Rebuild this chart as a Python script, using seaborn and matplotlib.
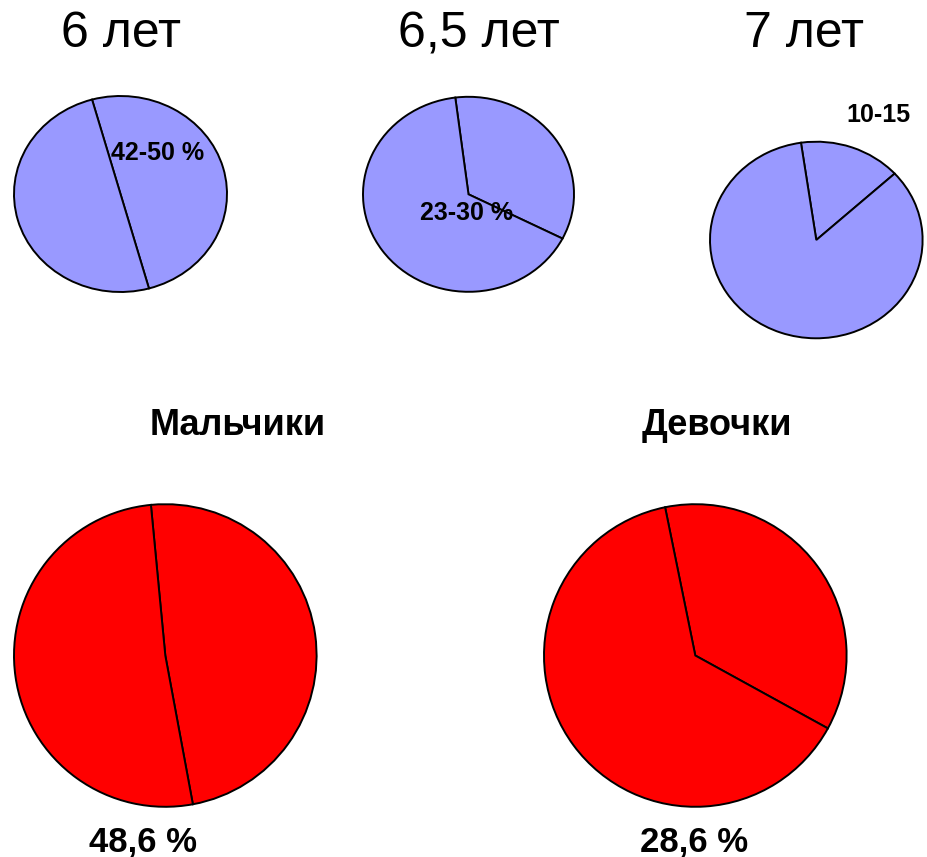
import matplotlib
matplotlib.use("Agg")
import matplotlib.pyplot as plt
import seaborn as sns

# ---- data ----
ages = ["6 лет", "6,5 лет", "7 лет"]
age_share = [50.0, 34.5, 15.5]          # highlighted slice, %
age_labels = ["42-50 %", "23-30 %", "10-15"]

genders = ["Мальчики", "Девочки"]
gender_share = [48.6, 36.2]             # highlighted slice, %
gender_labels = ["48,6 %", "28,6 %"]

# ---- style ----
sns.set_theme(style="white")
plt.rcParams["font.family"] = ["Liberation Sans", "DejaVu Sans"]

BLUE = "#9999FF"
RED = "#FF0000"

W, H = 928, 857
fig = plt.figure(figsize=(W / 100, H / 100), dpi=100)
fig.patch.set_facecolor("white")


def fx(x):
    return x / W


def fy(y):
    return 1 - y / H


def pie_axes(cx, cy, a, b):
    return fig.add_axes([fx(cx - a), fy(cy + b), 2 * a / W, 2 * b / H])


def draw_pie(ax, share, color, start):
    ax.pie([share, 100 - share], colors=[color, color],
           startangle=start, counterclock=True, radius=1.0,
           wedgeprops=dict(edgecolor="black", linewidth=1.4,
                           clip_on=False))
    ax.set_aspect("auto")
    ax.set_xlim(-1, 1)
    ax.set_ylim(-1, 1)
    ax.axis("off")


# top row: ellipse pies
top_geom = [(120.5, 194, 106.5, 98), (468.5, 194.3, 105.5, 97.5),
            (816.3, 240, 106.3, 98.3)]
top_start = [-74.5, -27, 42.5]
title_x = [121, 479, 804]
label_pos = [(157.5, 160), (467, 220), (878, 122.3)]

for i in range(3):
    ax = pie_axes(*top_geom[i])
    draw_pie(ax, age_share[i], BLUE, top_start[i])
    fig.text(fx(title_x[i]), fy(47), ages[i], ha="center", va="baseline",
             fontsize=36, color="black")
    lx, ly = label_pos[i]
    fig.text(fx(lx), fy(ly), age_labels[i], ha="center", va="baseline",
             fontsize=18, fontweight="bold", color="black")

# bottom row: circle pies
bot_geom = [(165.3, 655.5, 151.3, 151.3), (695.3, 655.5, 151.3, 151.3)]
bot_start = [-79.5, -28.8]
gtitle_x = [238, 717]
glabel_x = [143.5, 694]

for i in range(2):
    ax = pie_axes(*bot_geom[i])
    draw_pie(ax, gender_share[i], RED, bot_start[i])
    fig.text(fx(gtitle_x[i]), fy(435), genders[i], ha="center",
             va="baseline", fontsize=26, fontweight="bold", color="black")
    fig.text(fx(glabel_x[i]), fy(851.7), gender_labels[i], ha="center",
             va="baseline", fontsize=25, fontweight="bold", color="black")

fig.savefig("out.png", dpi=100, facecolor="white")
